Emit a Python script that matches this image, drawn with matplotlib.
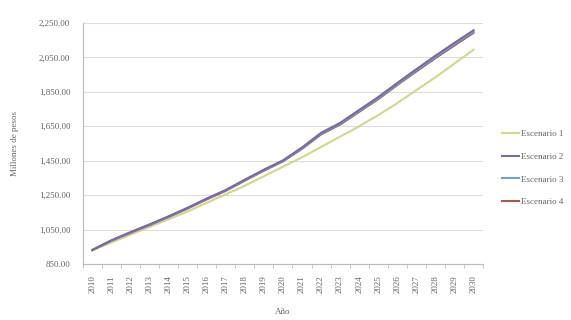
import numpy as np
import matplotlib
matplotlib.use('Agg')
import matplotlib.pyplot as plt
from matplotlib.ticker import FuncFormatter

years = list(range(2010, 2031))
escenario_1 = [930, 975, 1020, 1065, 1110, 1155, 1205, 1255, 1305, 1360, 1415,
               1470, 1530, 1590, 1650, 1715, 1785, 1860, 1935, 2015, 2095]
escenario_2 = [932, 988, 1035, 1080, 1127, 1177, 1230, 1280, 1340, 1398, 1452,
               1527, 1612, 1670, 1745, 1820, 1902, 1982, 2060, 2135, 2208]
escenario_3 = [931, 986, 1033, 1078, 1125, 1175, 1228, 1278, 1337, 1395, 1449,
               1523, 1607, 1665, 1739, 1813, 1895, 1975, 2052, 2127, 2200]
escenario_4 = [930, 985, 1031, 1076, 1123, 1172, 1225, 1275, 1334, 1392, 1446,
               1519, 1603, 1660, 1734, 1808, 1890, 1969, 2046, 2120, 2193]
labels = ['Escenario 1', 'Escenario 2', 'Escenario 3', 'Escenario 4']
colors = ['#d4d68f', '#7a6aa0', '#6f9fd3', '#a85a4f']
yticks = [850, 1050, 1250, 1450, 1650, 1850, 2050, 2250]

plt.rcParams['font.family'] = ['Liberation Serif', 'DejaVu Serif']

fig = plt.figure(figsize=(5.71, 3.2), dpi=100)
ax = fig.add_axes([0.145, 0.175, 0.701, 0.753])

series = [escenario_1, escenario_2, escenario_3, escenario_4]
zorders = [2, 5, 4, 3]
for serie, lab, col, z in zip(series, labels, colors, zorders):
    ax.plot(years, serie, color=col, linewidth=1.5, label=lab, zorder=z)

ax.set_xlim(2009.5, 2030.5)
ax.set_ylim(850, 2250)
ax.set_yticks(yticks)
ax.yaxis.set_major_formatter(FuncFormatter(lambda v, p: f'{v:,.2f}'))
ax.set_xticks(years)
ax.set_xticklabels([str(y) for y in years], rotation=90)
ax.set_xticks(np.arange(2009.5, 2031, 1), minor=True)
ax.tick_params(axis='x', which='major', length=0, labelsize=6.5, colors='#666666', pad=8)
ax.tick_params(axis='x', which='minor', length=3, color='#bbbbbb')
ax.tick_params(axis='y', length=0, labelsize=6.5, colors='#666666', pad=9)

ax.grid(axis='y', color='#dddddd', linewidth=0.8)
ax.set_axisbelow(True)
for s in ['top', 'right']:
    ax.spines[s].set_visible(False)
ax.spines['left'].set_color('#bbbbbb')
ax.spines['bottom'].set_color('#bbbbbb')

ax.set_ylabel('Millones de pesos', fontsize=6.5, color='#666666', labelpad=14)
ax.set_xlabel('Año', fontsize=6.5, color='#666666', labelpad=11)

handles, labs = ax.get_legend_handles_labels()
fig.legend(handles, labs, loc='center left', bbox_to_anchor=(0.88, 0.475),
           frameon=False, fontsize=6.5, labelcolor='#666666', handlelength=1.8,
           labelspacing=1.6, handletextpad=0.25, borderaxespad=0, borderpad=0)

fig.savefig('out.png', dpi=100)
